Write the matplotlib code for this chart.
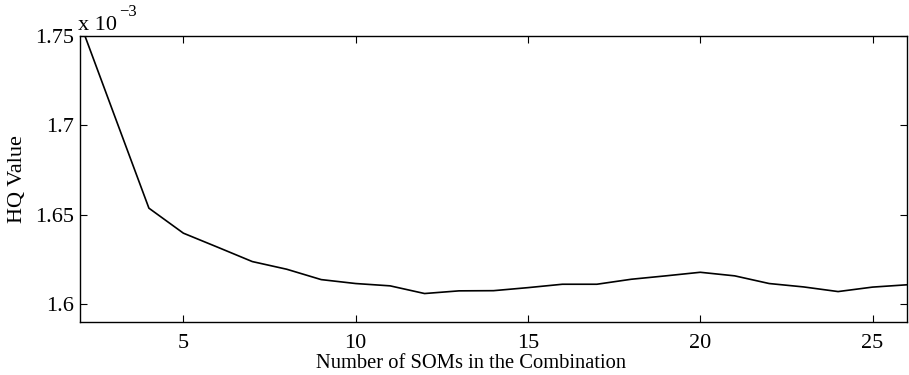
import matplotlib
matplotlib.use("Agg")
import matplotlib.pyplot as plt

# Data (HQ value in units of 1e-3)
num_soms = list(range(2, 27))
hq_value = [1.7575, 1.7055, 1.6536, 1.6396, 1.6317, 1.6237, 1.6194, 1.6136,
            1.6114, 1.6101, 1.6058, 1.6073, 1.6074, 1.6091, 1.6110, 1.6110,
            1.6138, 1.6157, 1.6177, 1.6157, 1.6114, 1.6095, 1.6069, 1.6094,
            1.6107]
xticks = [5, 10, 15, 20, 25]
yticks = [1.6, 1.65, 1.7, 1.75]
ytick_labels = ["1.6", "1.65", "1.7", "1.75"]

plt.rcParams['font.family'] = ['Liberation Serif', 'DejaVu Serif']

FS = 16
W, H = 909, 375
fig = plt.figure(figsize=(W / 100, H / 100), dpi=100)
ax = fig.add_axes([0.088, 0.142, 0.9098, 0.762])
ax.plot(num_soms, hq_value, color='black', linewidth=1.2)
ax.set_xlim(2, 26)
ax.set_ylim(1.59, 1.75)
ax.set_xticks(xticks)
ax.set_yticks(yticks)
ax.set_yticklabels(ytick_labels)
ax.tick_params(direction='in', top=True, right=True, length=5, width=0.8,
               labelsize=FS)
ax.tick_params(axis='x', pad=9)
ax.tick_params(axis='y', pad=4)
for s in ax.spines.values():
    s.set_linewidth(1.0)
ax.set_xlabel('Number of SOMs in the Combination', fontsize=14.8, va='baseline')
ax.xaxis.set_label_coords(0.473, -0.162)
ax.set_ylabel('HQ Value', fontsize=FS, labelpad=6)
fig.text(78 / W, 1 - 30 / H, 'x 10', fontsize=FS, ha='left', va='baseline')
fig.text(119 / W, 1 - 16 / H, '\u22123', fontsize=12, ha='left', va='baseline')
fig.savefig('out.png', dpi=100)
